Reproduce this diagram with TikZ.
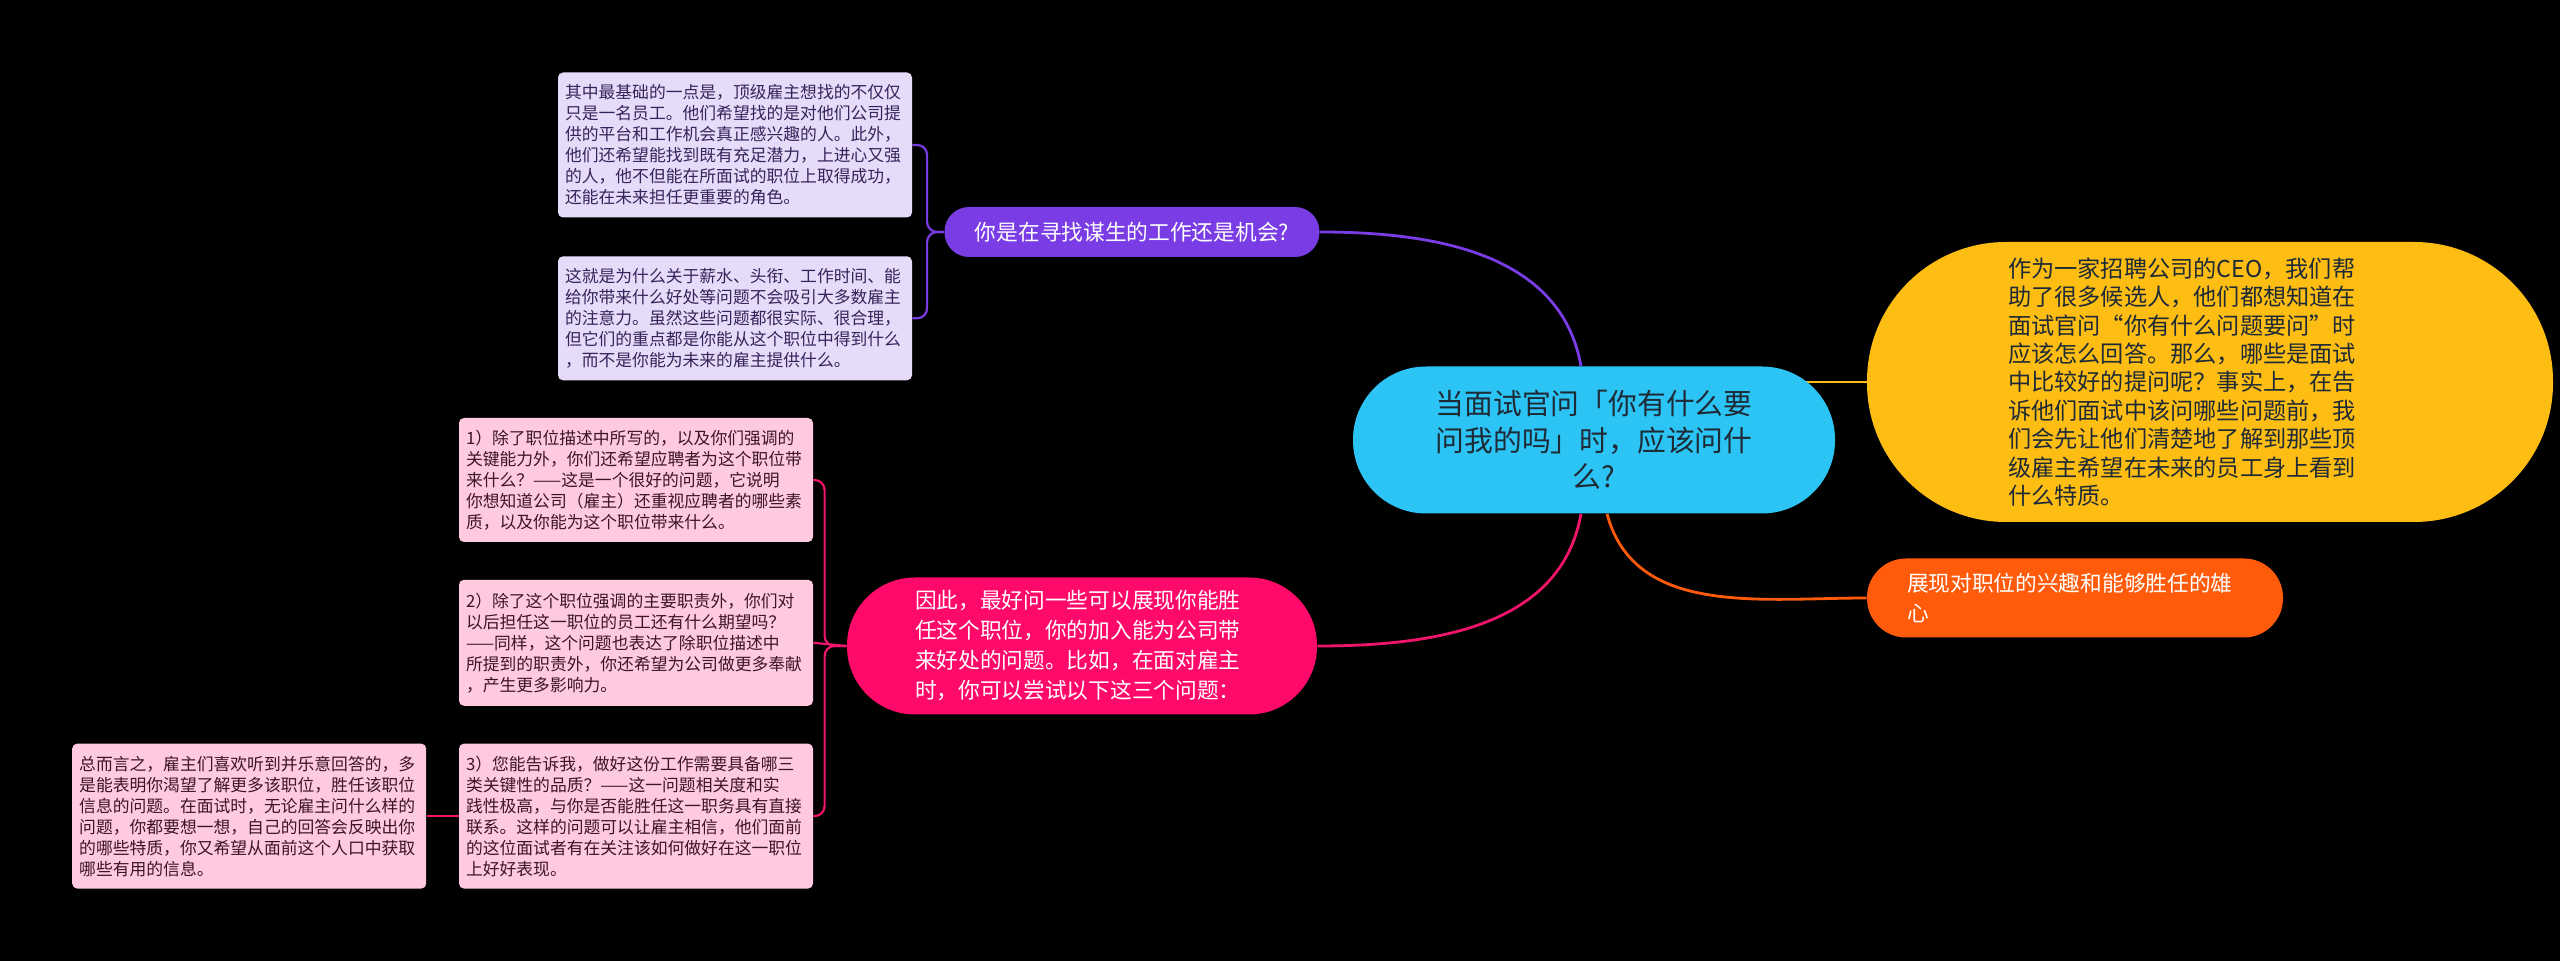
\documentclass[tikz,border=0pt]{standalone}
\usepackage{fontspec}
\setmainfont{Noto Sans CJK SC}
\usepackage{xcolor}
\usepackage{tikz}
\usetikzlibrary{positioning,backgrounds}

\definecolor{cenblue}{HTML}{2CC4F4}
\definecolor{ylwmain}{HTML}{FDBD13}
\definecolor{orgmain}{HTML}{FF5B0A}
\definecolor{pnkmain}{HTML}{FF0A6A}
\definecolor{pnkline}{HTML}{F0146A}
\definecolor{prpmain}{HTML}{7A3CE4}
\definecolor{prplight}{HTML}{E6DCFA}
\definecolor{pnklight}{HTML}{FFCADF}
\definecolor{darktxt}{HTML}{1E2A36}
\definecolor{prptxt}{HTML}{35245A}
\definecolor{pnktxt}{HTML}{3D1426}

\begin{document}
\begin{tikzpicture}[
  x=0.5pt, y=-0.5pt,
  node distance=18.5pt and 16pt,
  pill/.style={inner sep=0pt, text=white, font=\fontsize{10.85pt}{15pt}\selectfont},
  note/.style={rounded corners=2.5pt, inner sep=0pt, minimum width=177pt, text width=170pt, align=left, font=\fontsize{8.4pt}{10.5pt}\selectfont},
  notep/.style={note, fill=prplight, text=prptxt},
  notek/.style={note, fill=pnklight, text=pnktxt},
  link/.style={line width=1.4pt},
  sublink/.style={line width=1.1pt, rounded corners=5pt}
]
\useasboundingbox (0,0) rectangle (2560,961);
\begin{scope}[on background layer]
  \fill[black] (0,0) rectangle (2560,961);
\end{scope}

% centre and main branches
\node[pill, fill=cenblue, text=darktxt, rounded corners=36.5pt, minimum width=241pt, minimum height=73.5pt,
  align=center, font=\fontsize{14.4pt}{18.3pt}\selectfont] (cen) at (1594,440)
  {当面试官问「你有什么要\\问我的吗」时，应该问什\\么?};
\node[pill, fill=ylwmain, text=darktxt, rounded corners=69.5pt, minimum width=343pt, minimum height=140pt,
  text width=202pt, align=left, font=\fontsize{11.6pt}{14.2pt}\selectfont] (ylw) at (2210,382)
  {作为一家招聘公司的CEO，我们帮\\助了很多候选人，他们都想知道在\\面试官问“你有什么问题要问”时\\应该怎么回答。那么，哪些是面试\\中比较好的提问呢？事实上，在告\\诉他们面试中该问哪些问题前，我\\们会先让他们清楚地了解到那些顶\\级雇主希望在未来的员工身上看到\\什么特质。};
\node[pill, fill=orgmain, rounded corners=19.5pt, minimum width=208pt, minimum height=39.5pt,
  text width=168pt, align=left] (org) at (2075,598)
  {展现对职位的兴趣和能够胜任的雄\\心};
\node[pill, fill=pnkmain, rounded corners=34pt, minimum width=235pt, minimum height=68.5pt,
  text width=167pt, align=left] (pnk) at (1082,646)
  {因此，最好问一些可以展现你能胜\\任这个职位，你的加入能为公司带\\来好处的问题。比如，在面对雇主\\时，你可以尝试以下这三个问题：};
\node[pill, fill=prpmain, rounded corners=12.3pt, minimum width=187.5pt, minimum height=25pt] (prp) at (1132,232)
  {你是在寻找谋生的工作还是机会?};

% purple notes
\node[notep, minimum height=72.5pt] (bxA) at (735,145)
  {其中最基础的一点是，顶级雇主想找的不仅仅\\只是一名员工。他们希望找的是对他们公司提\\供的平台和工作机会真正感兴趣的人。此外，\\他们还希望能找到既有充足潜力，上进心又强\\的人，他不但能在所面试的职位上取得成功，\\还能在未来担任更重要的角色。};
\node[notep, minimum height=62pt, below=19pt of bxA] (bxB)
  {这就是为什么关于薪水、头衔、工作时间、能\\给你带来什么好处等问题不会吸引大多数雇主\\的注意力。虽然这些问题都很实际、很合理，\\但它们的重点都是你能从这个职位中得到什么\\，而不是你能为未来的雇主提供什么。};

% pink notes
\node[notek, minimum height=62pt] (pk1) at (636,480)
  {1）除了职位描述中所写的，以及你们强调的\\关键能力外，你们还希望应聘者为这个职位带\\来什么？——这是一个很好的问题，它说明\\你想知道公司（雇主）还重视应聘者的哪些素\\质，以及你能为这个职位带来什么。};
\node[notek, minimum height=63pt, below=of pk1] (pk2)
  {2）除了这个职位强调的主要职责外，你们对\\以后担任这一职位的员工还有什么期望吗？\\——同样，这个问题也表达了除职位描述中\\所提到的职责外，你还希望为公司做更多奉献\\，产生更多影响力。};
\node[notek, minimum height=72.5pt, below=of pk2] (pk3)
  {3）您能告诉我，做好这份工作需要具备哪三\\类关键性的品质？——这一问题相关度和实\\践性极高，与你是否能胜任这一职务具有直接\\联系。这样的问题可以让雇主相信，他们面前\\的这位面试者有在关注该如何做好在这一职位\\上好好表现。};
\node[notek, minimum height=72.5pt, left=of pk3] (pk4)
  {总而言之，雇主们喜欢听到并乐意回答的，多\\是能表明你渴望了解更多该职位，胜任该职位\\信息的问题。在面试时，无论雇主问什么样的\\问题，你都要想一想，自己的回答会反映出你\\的哪些特质，你又希望从面前这个人口中获取\\哪些有用的信息。};

\begin{scope}[on background layer]
  \draw[link, prpmain] (cen.100) to[out=100, in=0] (prp.east);
  \draw[link, ylwmain] (ylw.west) -- (ylw.west -| cen.center);
  \draw[link, orgmain] (cen.-80) to[out=-75, in=180] (org.west);
  \draw[link, pnkline] (cen.-100) to[out=-100, in=0] (pnk.east);

  \draw[sublink, prpmain] (prp.west) -- ++(-17,0) |- (bxA.east);
  \draw[sublink, prpmain] (prp.west) -- ++(-17,0) |- (bxB.east);

  \draw[sublink, pnkline] (pnk.west) -- ++(-22,0) |- (pk1.east);
  \draw[sublink, pnkline] (pnk.west) -- (pk2.east);
  \draw[sublink, pnkline] (pnk.west) -- ++(-22,0) |- (pk3.east);
  \draw[sublink, pnkline] (pk3.west) -- (pk4.east);
\end{scope}
\end{tikzpicture}
\end{document}
